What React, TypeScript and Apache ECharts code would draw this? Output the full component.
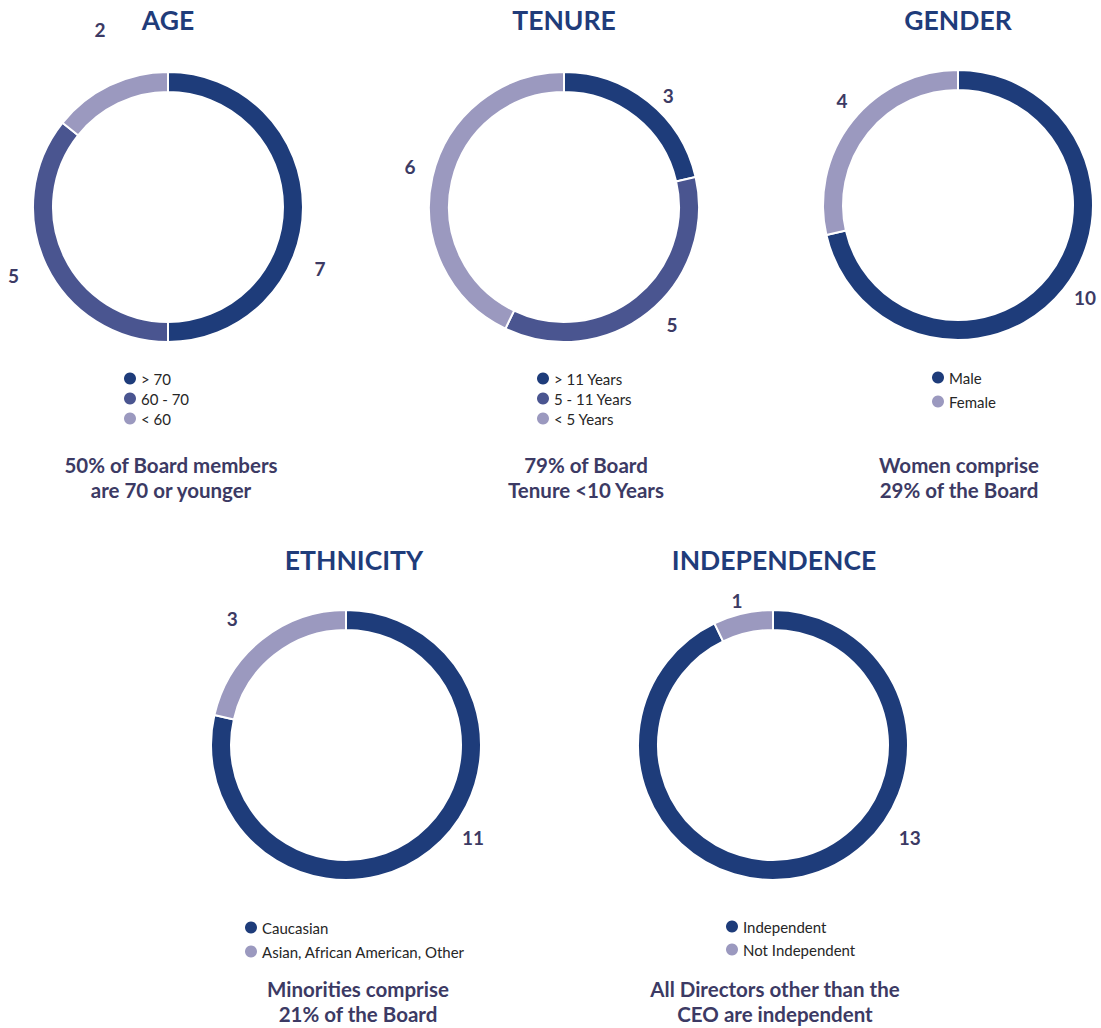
import { useEffect, useRef } from "react";
import * as echarts from "echarts";

// ---------- data ----------
const ageCategories = ["> 70", "60 - 70", "< 60"];
const ageValues = [7, 5, 2];
const tenureCategories = ["> 11 Years", "5 - 11 Years", "< 5 Years"];
const tenureValues = [3, 5, 6];
const genderCategories = ["Male", "Female"];
const genderValues = [10, 4];
const ethnicityCategories = ["Caucasian", "Asian, African American, Other"];
const ethnicityValues = [11, 3];
const independenceCategories = ["Independent", "Not Independent"];
const independenceValues = [13, 1];

const panelTitles = ["AGE", "TENURE", "GENDER", "ETHNICITY", "INDEPENDENCE"];
const panelCaptions = [
  "50% of Board members\nare 70 or younger",
  "79% of Board\nTenure <10 Years",
  "Women comprise\n29% of the Board",
  "Minorities comprise\n21% of the Board",
  "All Directors other than the\nCEO are independent",
];

// ---------- styles ----------
const NAVY = "#1e3c7a";
const MID = "#4a5590";
const LIGHT = "#9b99bf";
const TITLE_COLOR = "#1f3c7a";
const CAPTION_COLOR = "#3c3a64";
const FONT = "Lato, 'Noto Sans', sans-serif";

type Panel = {
  cats: string[];
  vals: number[];
  colors: string[];
  center: [number, number];
  titleX: number;
  titleY: number;
  legendLeft: number;
  legendTop: number;
  legendGap: number;
  captionX: number;
  captionY: number;
  // label placement: [angle clockwise from 12 o'clock, distance from centre]
  labelOverride: Record<number, [number, number]>;
};

const panels: Panel[] = [
  {
    cats: ageCategories, vals: ageValues, colors: [NAVY, MID, LIGHT],
    center: [168, 207], titleX: 168, titleY: 20,
    legendLeft: 124, legendTop: 371, legendGap: 5,
    captionX: 171, captionY: 452,
    labelOverride: { 0: [112, 164], 1: [246, 169], 2: [339, 190] },
  },
  {
    cats: tenureCategories, vals: tenureValues, colors: [NAVY, MID, LIGHT],
    center: [564, 207], titleX: 564, titleY: 20,
    legendLeft: 537, legendTop: 371, legendGap: 5,
    captionX: 586, captionY: 452,
    labelOverride: { 0: [43, 153], 1: [137.5, 160], 2: [284.6, 159] },
  },
  {
    cats: genderCategories, vals: genderValues, colors: [NAVY, LIGHT],
    center: [958, 205], titleX: 958, titleY: 20,
    legendLeft: 932, legendTop: 370, legendGap: 9,
    captionX: 959, captionY: 452,
    labelOverride: { 0: [126, 157], 1: [312, 156] },
  },
  {
    cats: ethnicityCategories, vals: ethnicityValues, colors: [NAVY, LIGHT],
    center: [346, 745], titleX: 354, titleY: 560,
    legendLeft: 245, legendTop: 920, legendGap: 9,
    captionX: 358, captionY: 976,
    labelOverride: { 0: [126, 157], 1: [318, 170] },
  },
  {
    cats: independenceCategories, vals: independenceValues, colors: [NAVY, LIGHT],
    center: [773, 745], titleX: 774, titleY: 560,
    legendLeft: 726, legendTop: 919, legendGap: 8,
    captionX: 775, captionY: 976,
    labelOverride: { 0: [124, 165], 1: [346, 149] },
  },
];

export default function App() {
  const ref = useRef<HTMLDivElement>(null);

  useEffect(() => {
    if (!ref.current) return;
    const chart = echarts.init(ref.current, undefined, { renderer: "svg" });

    const series: any[] = [];
    const legends: any[] = [];
    const graphics: any[] = [];

    panels.forEach((p, i) => {
      const data = p.cats.map((name, k) => ({
        name,
        value: p.vals[k],
        itemStyle: { color: p.colors[k] },
      }));
      series.push({
        type: "pie",
        name: panelTitles[i],
        center: p.center,
        radius: [115, 135],
        startAngle: 90,
        clockwise: true,
        silent: true,
        label: { show: false },
        labelLine: { show: false },
        itemStyle: { borderColor: "#ffffff", borderWidth: 2 },
        emphasis: { disabled: true },
        data,
      });
      series.push({
        type: "pie",
        name: panelTitles[i] + " labels",
        center: p.center,
        radius: [150, 166],
        startAngle: 90,
        clockwise: true,
        silent: true,
        itemStyle: { color: "rgba(0,0,0,0)", borderWidth: 0 },
        emphasis: { disabled: true },
        label: {
          show: true,
          position: "inside",
          formatter: "{c}",
          color: CAPTION_COLOR,
          fontFamily: FONT,
          fontWeight: "bold",
          fontSize: 19,
        },
        labelLine: { show: false },
        labelLayout: (params: any) => {
          const ov = p.labelOverride[params.dataIndex];
          if (!ov) return {};
          const a = (ov[0] * Math.PI) / 180;
          return {
            x: p.center[0] + ov[1] * Math.sin(a),
            y: p.center[1] - ov[1] * Math.cos(a),
            align: "center",
            verticalAlign: "middle",
          };
        },
        data: p.cats.map((name, k) => ({ name, value: p.vals[k] })),
      });
      legends.push({
        orient: "vertical",
        left: p.legendLeft,
        top: p.legendTop,
        padding: 0,
        itemGap: p.legendGap,
        itemWidth: 12,
        itemHeight: 12,
        itemTextGap: 7,
        icon: "circle",
        selectedMode: false,
        itemStyle: { borderWidth: 0 },
        data: p.cats,
        textStyle: { fontFamily: FONT, fontSize: 15, color: "#262626" },
      });
      graphics.push({
        type: "text",
        x: p.titleX,
        y: p.titleY,
        style: {
          text: panelTitles[i],
          fill: TITLE_COLOR,
          fontFamily: FONT,
          fontWeight: "bold",
          fontSize: 26.5,
          align: "center",
          verticalAlign: "middle",
        },
      });
      graphics.push({
        type: "text",
        x: p.captionX,
        y: p.captionY,
        style: {
          text: panelCaptions[i],
          fill: CAPTION_COLOR,
          fontFamily: FONT,
          fontWeight: "bold",
          fontSize: 20.5,
          lineHeight: 25,
          align: "center",
          verticalAlign: "top",
        },
      });
    });

    chart.setOption({
      animation: false,
      backgroundColor: "#ffffff",
      legend: legends,
      series,
      graphic: graphics,
    });

    return () => chart.dispose();
  }, []);

  return (
    <div
      ref={ref}
      style={{ position: "absolute", left: 0, top: 0, width: 1101, height: 1028 }}
    />
  );
}
